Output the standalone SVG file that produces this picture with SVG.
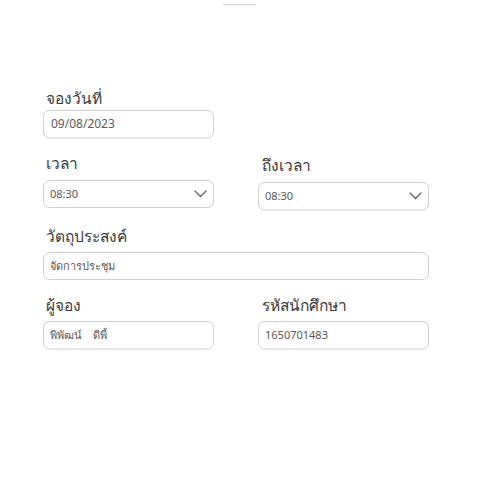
<svg xmlns="http://www.w3.org/2000/svg" width="480" height="485" viewBox="0 0 480 485">
<style>
.lbl{font-family:"Noto Sans","Liberation Sans",sans-serif;font-size:15.5px;font-weight:300;fill:#3a3a3a}
.val{font-family:"Noto Sans","Liberation Sans",sans-serif;font-size:11px;fill:#5a5a5a;white-space:pre}
.box{fill:#fff;stroke:#cfcfcf;stroke-width:1}
.chev{fill:none;stroke:#666;stroke-width:1.4;stroke-linecap:round;stroke-linejoin:round}
</style>
<rect width="480" height="485" fill="#fff"/>
<line x1="223" y1="4.5" x2="256" y2="4.5" stroke="#d8d8d8" stroke-width="1.5"/>
<g id="date">
<text class="lbl" x="46" y="104">จองวันที่</text>
<rect class="box" x="43.5" y="110.5" width="170" height="27.5" rx="6"/>
<text class="val" x="51" y="128" style="font-size:12px">09/08/2023</text>
</g>
<g id="time-start">
<text class="lbl" x="46" y="169">เวลา</text>
<rect class="box" x="43.5" y="180.5" width="170" height="27" rx="6"/>
<text class="val" x="50" y="198">08:30</text>
<polyline class="chev" points="195,191 200.5,196.5 206,191"/>
</g>
<g id="time-end">
<text class="lbl" x="262" y="171">ถึงเวลา</text>
<rect class="box" x="258.5" y="182.5" width="170" height="27.5" rx="6"/>
<text class="val" x="265" y="200">08:30</text>
<polyline class="chev" points="410,193 415.5,198.5 421,193"/>
</g>
<g id="purpose">
<text class="lbl" x="46" y="242">วัตถุประสงค์</text>
<rect class="box" x="43.5" y="252.5" width="385" height="27" rx="6"/>
<text class="val" x="50" y="270">จัดการประชุม</text>
</g>
<g id="booker">
<text class="lbl" x="46" y="311">ผู้จอง</text>
<rect class="box" x="43.5" y="321.5" width="170" height="27.5" rx="6"/>
<text class="val" x="50" y="339">พิพัฒน์    ดีพี้</text>
</g>
<g id="student-id">
<text class="lbl" x="262" y="311">รหัสนักศึกษา</text>
<rect class="box" x="258.5" y="321.5" width="170" height="27.5" rx="6"/>
<text class="val" x="265" y="339">1650701483</text>
</g>
<g id="connectors"/>
</svg>
